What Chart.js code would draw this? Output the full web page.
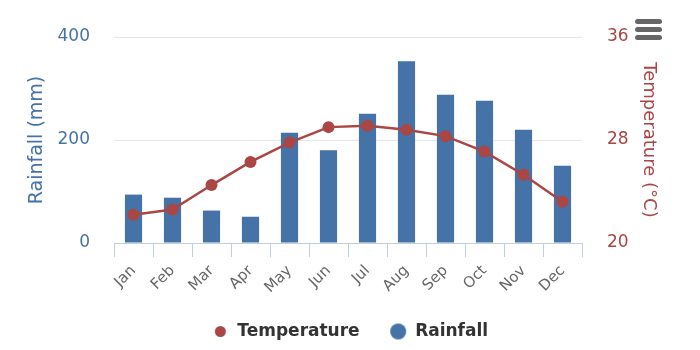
<!DOCTYPE html>
<html>
<head>
<meta charset="utf-8">
<script src="https://cdn.jsdelivr.net/npm/chart.js@4.4.1/dist/chart.umd.min.js"></script>
<style>
  html, body { margin: 0; padding: 0; background: #fff; }
  #wrap { position: relative; width: 700px; height: 350px; }
  .menu { position: absolute; left: 635px; top: 19px; width: 27px; }
  .menu span { display: block; height: 5px; margin-bottom: 3px; background: #666; border-radius: 2.5px; }
</style>
</head>
<body>
<div id="wrap">
  <canvas id="chart" width="700" height="350"></canvas>
  <div class="menu"><span></span><span></span><span></span></div>
</div>
<script>
// Данные графика
const MONTHS = ['Jan', 'Feb', 'Mar', 'Apr', 'May', 'Jun', 'Jul', 'Aug', 'Sep', 'Oct', 'Nov', 'Dec'];
const RAINFALL = [94, 88, 63, 51, 214, 180, 251, 353, 288, 276, 220, 150];
const TEMPERATURE = [22.2, 22.6, 24.5, 26.3, 27.8, 29.0, 29.1, 28.8, 28.3, 27.1, 25.3, 23.2];
const RAIN_TICKS = [0, 200, 400];
const TEMP_TICKS = [20, 28, 36];

const BLUE = '#4572A7';
const RED = '#AA4643';
const FONT = '"DejaVu Sans", sans-serif';

// кружки для легенды разного размера
function dot(diameter, color) {
    const c = document.createElement('canvas');
    c.width = diameter + 2;
    c.height = diameter + 2;
    const ctx = c.getContext('2d');
    ctx.fillStyle = color;
    ctx.beginPath();
    ctx.arc(c.width / 2, c.height / 2, diameter / 2, 0, Math.PI * 2);
    ctx.fill();
    return c;
}
const LEGEND_DOTS = [dot(11, RED), dot(16, BLUE)];

new Chart(document.getElementById('chart'), {
    data: {
        labels: MONTHS,
        datasets: [
            {
                type: 'line',
                label: 'Temperature',
                data: TEMPERATURE,
                yAxisID: 'y1',
                borderColor: RED,
                backgroundColor: RED,
                borderWidth: 2.5,
                pointRadius: 6,
                pointHoverRadius: 6,
                pointBorderWidth: 0,
                tension: 0,
            },
            {
                type: 'bar',
                label: 'Rainfall',
                data: RAINFALL,
                yAxisID: 'y',
                backgroundColor: BLUE,
                borderWidth: 0,
                categoryPercentage: 1,
                barPercentage: 0.44,
            },
        ],
    },
    options: {
        responsive: false,
        animation: false,
        layout: { padding: { top: 37, bottom: 0, left: 0, right: 0 } },
        plugins: {
            tooltip: { enabled: false },
            legend: {
                position: 'bottom',
                labels: {
                    usePointStyle: true,
                    boxWidth: 27,
                    boxHeight: 16,
                    padding: 30,
                    color: '#333333',
                    font: { family: FONT, size: 17, weight: 'bold' },
                    generateLabels: chart => chart.data.datasets.map((ds, i) => ({
                        text: ds.label,
                        datasetIndex: i,
                        pointStyle: LEGEND_DOTS[i],
                        fillStyle: ds.backgroundColor,
                        strokeStyle: ds.backgroundColor,
                        lineWidth: 0,
                        fontColor: '#333333',
                        hidden: false,
                    })),
                },
            },
        },
        scales: {
            x: {
                grid: {
                    display: true,
                    drawOnChartArea: false,
                    color: '#C0D0E0',
                    tickLength: 14,
                    offset: true,
                },
                border: { color: '#C0D0E0' },
                ticks: {
                    color: '#666666',
                    font: { family: FONT, size: 15 },
                    minRotation: 45,
                    maxRotation: 45,
                    padding: 5,
                },
                afterFit: s => { s.height = 50; },
            },
            y: {
                position: 'left',
                min: 0,
                max: 400,
                afterBuildTicks: s => { s.ticks = RAIN_TICKS.map(v => ({ value: v })); },
                grid: { color: '#E6E6E6', drawTicks: false },
                border: { display: false },
                ticks: {
                    color: BLUE,
                    font: { family: FONT, size: 17 },
                    padding: 24,
                },
                title: {
                    display: true,
                    text: 'Rainfall (mm)',
                    color: BLUE,
                    font: { family: FONT, size: 19 },
                    padding: { top: 26, bottom: 0 },
                },
                afterFit: s => { s.width = 114; },
            },
            y1: {
                position: 'right',
                min: 20,
                max: 36,
                afterBuildTicks: s => { s.ticks = TEMP_TICKS.map(v => ({ value: v })); },
                grid: { display: false, drawTicks: false },
                border: { display: false },
                ticks: {
                    color: RED,
                    font: { family: FONT, size: 17 },
                    padding: 25,
                },
                title: {
                    display: true,
                    text: 'Temperature (°C)',
                    color: RED,
                    font: { family: FONT, size: 18 },
                    padding: { top: 41, bottom: 0 },
                },
                afterFit: s => { s.width = 118; },
            },
        },
    },
});
</script>
</body>
</html>
